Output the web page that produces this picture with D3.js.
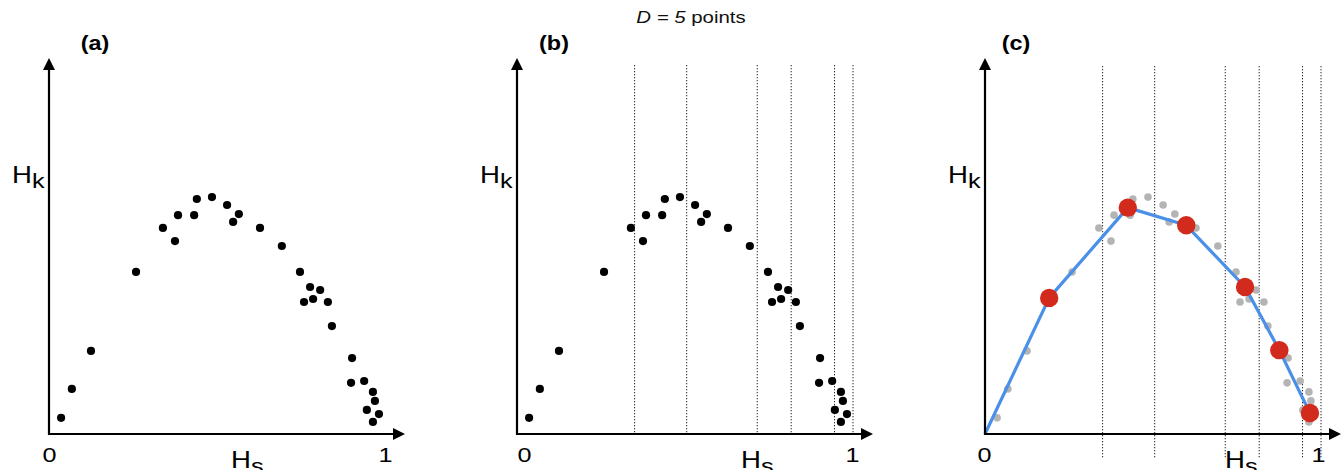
<!DOCTYPE html>
<html>
<head>
<meta charset="utf-8">
<script src="https://cdn.jsdelivr.net/npm/d3@7"></script>
<style>
  html, body { margin: 0; padding: 0; background: #fff; }
  svg { display: block; font-family: "Liberation Sans", Arial, Helvetica, sans-serif; }
</style>
</head>
<body>
<svg id="chart" width="1343" height="470"></svg>
<script>
// ---------- data ----------
const hs = [0.036, 0.068, 0.125, 0.259, 0.339, 0.375, 0.384, 0.432, 0.440, 0.485,
            0.530, 0.548, 0.565, 0.628, 0.693, 0.747, 0.777, 0.807, 0.759, 0.786,
            0.830, 0.842, 0.902, 0.899, 0.938, 0.964, 0.970, 0.946, 0.982, 0.964];
const hk = [0.043, 0.120, 0.221, 0.431, 0.548, 0.513, 0.582, 0.582, 0.625, 0.630,
            0.609, 0.564, 0.585, 0.548, 0.500, 0.431, 0.391, 0.383, 0.351, 0.359,
            0.351, 0.287, 0.202, 0.136, 0.141, 0.112, 0.088, 0.064, 0.053, 0.032];
const binEdges = [0.35, 0.505, 0.715, 0.816, 0.945, 1.0];
const repHs = [0, 0.191, 0.425, 0.599, 0.774, 0.876, 0.967];
const repHk = [0, 0.362, 0.602, 0.555, 0.391, 0.223, 0.056];
const tickValues = [0, 1];
const tickLabels = ["0", "1"];
const panelLabels = ["(a)", "(b)", "(c)"];
const title = { italic: "D = 5", rest: " points" };

// ---------- layout ----------
const panels = [
  { ox: 49,  label: panelLabels[0], labelX: 95,   hsX: 231,  zeroDx: 0,  oneDx: 0,  mode: "a" },
  { ox: 517, label: panelLabels[1], labelX: 554,  hsX: 741,  zeroDx: 7,  oneDx: -1, mode: "b" },
  { ox: 985, label: panelLabels[2], labelX: 1016, hsX: 1225, zeroDx: -1, oneDx: -3, mode: "c" }
];
const axisY = 434, axisTop = 58, axisLen = 356, unitX = 336;
const SX = 1.2; // horizontal stretch of the original lettering

const svg = d3.select("#chart");

function label(parent, x, y, size) {
  return parent.append("text")
    .attr("transform", `translate(${x},${y}) scale(${SX},1)`)
    .attr("font-size", size).attr("fill", "#000");
}

// title
const t = label(svg, 691, 23, 17).attr("text-anchor", "middle").attr("fill", "#111");
t.append("tspan").attr("font-style", "italic").text(title.italic);
t.append("tspan").text(title.rest);

panels.forEach(p => {
  const g = svg.append("g").attr("transform", `translate(${p.ox},0)`);
  const x = d3.scaleLinear().domain([0, 1]).range([0, unitX]);
  const y = d3.scaleLinear().domain([0, 1]).range([axisY, axisTop]);

  // dotted bin lines
  if (p.mode !== "a") {
    const y1 = p.mode === "b" ? 65 : 66;
    const y2 = p.mode === "b" ? axisY : 458;
    g.selectAll("line.bin").data(binEdges).join("line")
      .attr("class", "bin")
      .attr("x1", d => x(d)).attr("x2", d => x(d))
      .attr("y1", y1).attr("y2", y2)
      .attr("stroke", "#222").attr("stroke-width", 1)
      .attr("stroke-dasharray", "1.3,1.7");
  }

  // points
  const pts = hs.map((v, i) => ({ x: v, y: hk[i] }));
  g.selectAll("circle.pt").data(pts).join("circle")
    .attr("class", "pt")
    .attr("cx", d => x(d.x)).attr("cy", d => y(d.y))
    .attr("r", p.mode === "c" ? 3.8 : 4.1)
    .attr("fill", p.mode === "c" ? "#b4b4b4" : "#000");

  if (p.mode === "c") {
    const rep = repHs.map((v, i) => ({ x: v, y: repHk[i] }));
    g.append("path").datum(rep)
      .attr("d", d3.line().x(d => x(d.x)).y(d => y(d.y)))
      .attr("fill", "none").attr("stroke", "#4a8fe8").attr("stroke-width", 3.2)
      .attr("stroke-linejoin", "round");
    g.selectAll("circle.rep").data(rep.slice(1)).join("circle")
      .attr("class", "rep")
      .attr("cx", d => x(d.x)).attr("cy", d => y(d.y))
      .attr("r", 9.2).attr("fill", "#d22a1c");
  }

  // axes with arrows
  g.append("line").attr("x1", 0).attr("x2", 0).attr("y1", axisY + 1).attr("y2", axisTop + 8)
    .attr("stroke", "#000").attr("stroke-width", 2.2);
  g.append("line").attr("x1", -1).attr("x2", axisLen - 8).attr("y1", axisY).attr("y2", axisY)
    .attr("stroke", "#000").attr("stroke-width", 2.2);
  g.append("path").attr("d", `M0,${axisTop} L-6,${axisTop + 12} L6,${axisTop + 12} Z`).attr("fill", "#000");
  g.append("path").attr("d", `M${axisLen},${axisY} L${axisLen - 12},${axisY - 6} L${axisLen - 12},${axisY + 6} Z`).attr("fill", "#000");

  // tick labels via axis
  const ax = g.append("g").attr("transform", `translate(0,${axisY})`)
    .call(d3.axisBottom(x).tickValues(tickValues).tickSize(0).tickPadding(0)
      .tickFormat((d, i) => tickLabels[i]));
  ax.select(".domain").remove();
  ax.selectAll("text")
    .attr("font-family", "Liberation Sans, Arial, sans-serif")
    .attr("font-size", 21).attr("fill", "#000")
    .attr("dy", null).attr("y", 0).attr("x", 0)
    .attr("transform", (d, i) => `translate(${i === 0 ? p.zeroDx : p.oneDx},28) scale(${SX},1)`);

  // axis labels
  const hkT = label(g, -37, 183, 23);
  hkT.append("tspan").text("H");
  hkT.append("tspan").attr("font-size", 21).attr("dy", 5).text("k");

  const hsT = label(g, p.hsX - p.ox, 468, 23);
  hsT.append("tspan").text("H");
  hsT.append("tspan").attr("font-size", 21).attr("dy", 5).text("s");

  // panel label
  label(g, p.labelX - p.ox, 50, 19.5)
    .attr("text-anchor", "middle").attr("font-weight", "bold").text(p.label);
});
</script>
</body>
</html>
